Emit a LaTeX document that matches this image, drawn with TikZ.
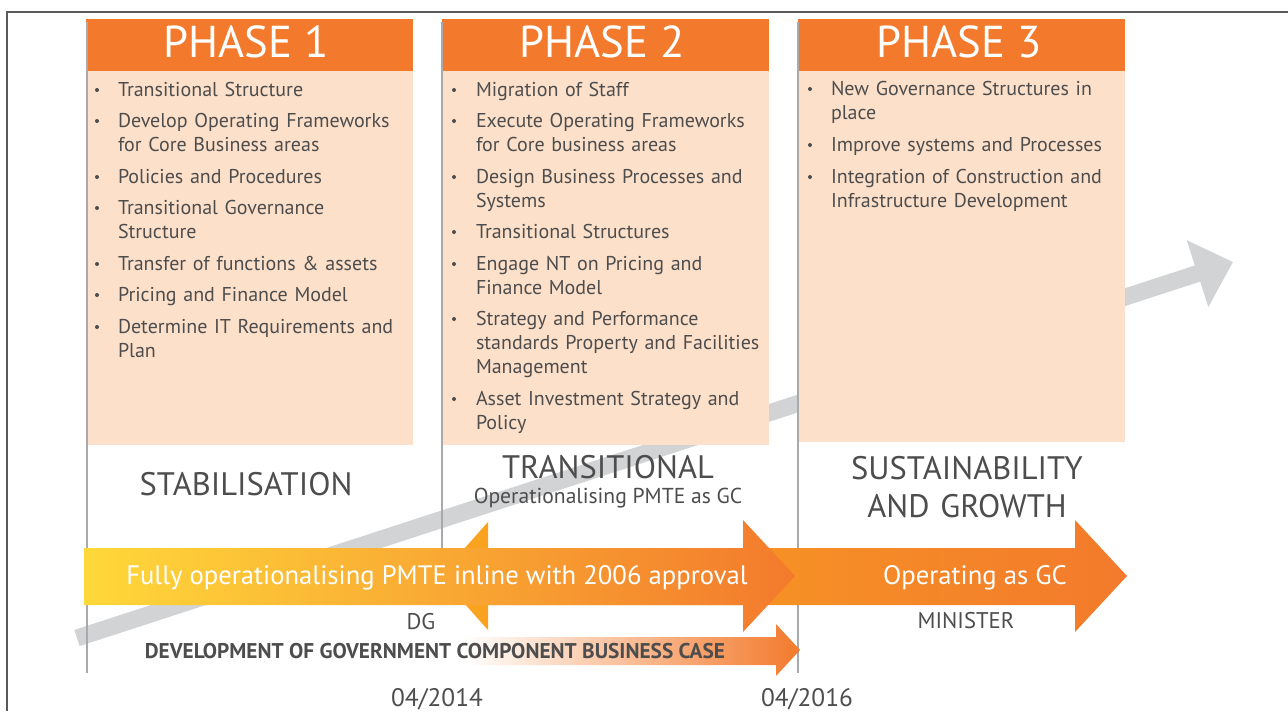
\documentclass[tikz,border=0pt]{standalone}
\usepackage{fontspec}
\setmainfont{PT Sans}
\usetikzlibrary{positioning}
\usetikzlibrary{arrows.meta}
\definecolor{ORANGE}{HTML}{F37A2C}
\definecolor{ORANGE_L}{HTML}{F9A51F}
\definecolor{YELLOW}{HTML}{FFD83A}
\definecolor{PEACH}{HTML}{FCE0CA}
\definecolor{GREY}{HTML}{A7A9AC}
\definecolor{GREY_L}{HTML}{D1D3D4}
\definecolor{GREY_E}{HTML}{4D4D4D}
\definecolor{FRAME}{HTML}{5A5A5A}
\tikzset{
	every node/.style = {inner sep=0pt, outer sep=0pt},
	phase/.style = {anchor=base, text=white, font=\fontsize{33.5}{33.5}\selectfont},
	item/.style = {anchor=base west, text width=230pt, align=left, text=GREY_E, font=\fontsize{15}{18}\selectfont},
	stage/.style = {anchor=base, text width=240pt, align=center, text=GREY_E, font=\fontsize{24.4}{28.5}\selectfont},
	sub/.style = {anchor=base, text=GREY_E, font=\fontsize{16.2}{18}\selectfont},
	bar/.style = {anchor=base, text=white, font=\fontsize{20}{22}\selectfont},
	who/.style = {anchor=base, text=GREY_E, font=\fontsize{17}{20}\selectfont},
	date/.style = {anchor=base, text=GREY_E, font=\fontsize{19}{22}\selectfont}
}

\begin{document}
\begin{tikzpicture}[x=0.75pt, y=-0.75pt]
		\useasboundingbox (0,0) rectangle (1288,711);
		% frame
		\draw[FRAME, line width=1.2pt] (1288,12) -- (7,12) -- (7,711);
		% rising trend
		\coordinate (trend start) at (77,638);
		\coordinate (trend end) at (1233,262);
		\draw[GREY_L, line width=12.75pt, -{Triangle[length=28pt, width=51pt]}] (trend start) -- (trend end);
		% phase boxes
		\fill[ORANGE] (86,19) rectangle (413,71);
		\fill[PEACH] (86,71) rectangle (413,445);
		\fill[ORANGE] (442,19) rectangle (769,71);
		\fill[PEACH] (442,71) rectangle (769,445);
		\fill[ORANGE] (798,19) rectangle (1125,71);
		\fill[PEACH] (798,71) rectangle (1125,442);
		\draw[GREY, line width=1.6pt] (87,22) -- (87,673) (442,22) -- (442,548) (798,22) -- (798,673);
		\node[phase] (phase1) at (246,57) {PHASE 1};
		\node[phase] (phase2) at (602,57) {PHASE 2};
		\node[phase] (phase3) at (959,57) {PHASE 3};
		% phase 1 items
		\foreach \y/\txt in {96/{Transitional Structure},
				127/{Develop Operating Frameworks\\for Core Business areas},
				183/{Policies and Procedures},
				214/{Transitional Governance\\Structure},
				270/{Transfer of functions \& assets},
				301/{Pricing and Finance Model},
				333/{Determine IT Requirements and\\Plan}} {
			\fill[GREY_E] (97,\y-6) circle (2);
			\node[item] (a\y) at (118,\y) {\txt};
		}
		% phase 2 items
		\foreach \y/\txt in {96/{Migration of Staff},
				127/{Execute Operating Frameworks\\for Core business areas},
				183/{Design Business Processes and\\Systems},
				238/{Transitional Structures},
				270/{Engage NT on Pricing and\\Finance Model},
				325/{Strategy and Performance\\standards Property and Facilities\\Management},
				405/{Asset Investment Strategy and\\Policy}} {
			\fill[GREY_E] (454,\y-6) circle (2);
			\node[item] (b\y) at (476,\y) {\txt};
		}
		% phase 3 items
		\foreach \y/\txt in {95/{New Governance Structures in\\place},
				151/{Improve systems and Processes},
				183/{Integration of Construction and\\Infrastructure Development}} {
			\fill[GREY_E] (810,\y-6) circle (2);
			\node[item] (c\y) at (831,\y) {\txt};
		}
		% stages
		\node[stage] (stab) at (246,495) {STABILISATION};
		\node[stage] (trans) at (608,478) {TRANSITIONAL};
		\node[sub] (transsub) at (608,503) {Operationalising PMTE as GC};
		\node[stage] (sust) at (967,479) {SUSTAINABILITY\\AND GROWTH};
		% operating arrow
		\shade[left color=ORANGE_L, right color=ORANGE] (440,576) -- (488,522) -- (488,548) -- (1075,548) -- (1075,520)
		      -- (1127,576) -- (1075,632) -- (1075,605) -- (488,605) -- (488,630) -- cycle;
		% main arrow
		\shade[left color=YELLOW, right color=ORANGE] (84,548) -- (743,548) -- (743,520) -- (795,576)
		      -- (743,632) -- (743,605) -- (84,605) -- cycle;
		% business case arrow
		\shade[left color=white, right color=ORANGE] (463,637) -- (776,637) -- (776,624) -- (800,650)
		      -- (776,676) -- (776,665) -- (463,665) -- cycle;
		\node[bar] (full) at (437,584) {Fully operationalising PMTE inline with 2006 approval};
		\node[bar] (gc) at (975,584) {Operating as GC};
		\node[who] (dg) at (421,629) {DG};
		\node[who] (min) at (966,628) {MINISTER};
		\node[anchor=base, text=GREY_E, font=\bfseries\fontsize{16}{18}\selectfont] (case) at (435,658)
		      {DEVELOPMENT OF GOVERNMENT COMPONENT BUSINESS CASE};
		\node[date] (d14) at (437,706) {04/2014};
		\node[date] (d16) at (807,706) {04/2016};
	\end{tikzpicture}
\end{document}
